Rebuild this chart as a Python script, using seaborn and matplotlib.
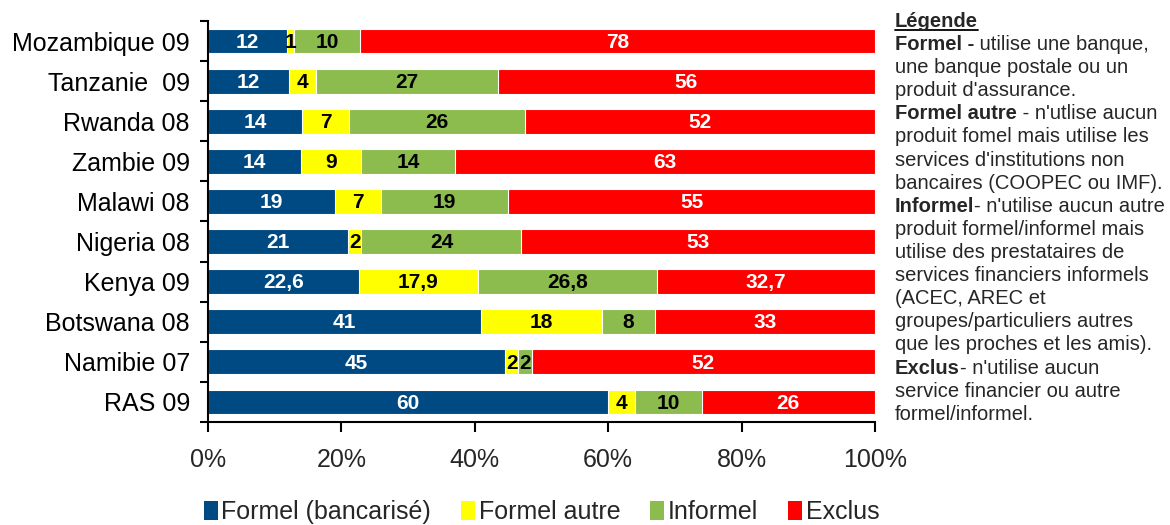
import numpy as np
import pandas as pd
import matplotlib
matplotlib.use("Agg")
import matplotlib.pyplot as plt
from matplotlib.patches import Patch
from matplotlib.lines import Line2D
import seaborn as sns

# Donnees
pays = ["Mozambique 09", "Tanzanie  09", "Rwanda 08", "Zambie 09", "Malawi 08",
        "Nigeria 08", "Kenya 09", "Botswana 08", "Namibie 07", "RAS 09"]
formel = [12, 12, 14, 14, 19, 21, 22.6, 41, 45, 60]
formel_autre = [1, 4, 7, 9, 7, 2, 17.9, 18, 2, 4]
informel = [10, 27, 26, 14, 19, 24, 26.8, 8, 2, 10]
exclus = [78, 56, 52, 63, 55, 53, 32.7, 33, 52, 26]

series = ["Formel (bancarisé)", "Formel autre", "Informel", "Exclus"]
couleurs = ["#004A83", "#FFFF00", "#8CBB4E", "#FF0000"]
couleurs_texte = ["white", "black", "black", "white"]
x_ticks = [0, 20, 40, 60, 80, 100]

sns.set_theme(style="white")
plt.rcParams["font.family"] = ["Liberation Sans", "DejaVu Sans"]

# 100% empile : on normalise chaque ligne
df = pd.DataFrame({"pays": pays, series[0]: formel, series[1]: formel_autre,
                   series[2]: informel, series[3]: exclus})
total = df[series].sum(axis=1)
pct = df[series].div(total, axis=0) * 100
cum = pct.cumsum(axis=1)

fig = plt.figure(figsize=(11.7, 5.25), dpi=100)
ax = fig.add_axes([208 / 1170, 103 / 525, 667 / 1170, 401 / 525])

# on dessine les cumuls du plus long au plus court
for s, c in zip(reversed(series), reversed(couleurs)):
    sns.barplot(x=cum[s].values, y=df["pays"], color=c, orient="h", width=0.62,
                saturation=1, edgecolor="white", linewidth=0.8, ax=ax)

# etiquettes des segments
debut = cum - pct
for i in range(len(df)):
    for s, ct in zip(series, couleurs_texte):
        v = df.loc[i, s]
        txt = f"{v:g}".replace(".", ",")
        ax.text(debut.loc[i, s] + pct.loc[i, s] / 2, i + 0.03, txt, ha="center", va="center",
                color=ct, fontsize=15, fontweight="bold")

ax.set_xlim(0, 100)
ax.set_ylim(9.5, -0.5)
ax.set_xticks(x_ticks)
ax.set_xticklabels([f"{t}%" for t in x_ticks])
ax.set_xlabel("")
ax.set_ylabel("")
ax.set_yticks(np.arange(-0.5, 10, 1), minor=True)
ax.tick_params(axis="y", which="major", length=0, pad=13, labelsize=18, colors="black")
ax.tick_params(axis="y", which="minor", left=True, length=6, width=1.5, color="black", direction="out")
ax.tick_params(axis="x", bottom=True, length=7, width=1.5, pad=12, labelsize=18,
               color="black", direction="out")
for sp in ["top", "right"]:
    ax.spines[sp].set_visible(False)
for sp in ["left", "bottom"]:
    ax.spines[sp].set_color("black")
    ax.spines[sp].set_linewidth(1.5)

poignees = [Patch(facecolor=c, edgecolor="none") for c in couleurs]
ax.legend(poignees, series, loc="center", bbox_to_anchor=(0.5, -0.225), ncol=4,
          frameon=False, fontsize=18, handlelength=0.55, handleheight=0.75,
          handletextpad=0.15, columnspacing=1.2)

# Legende texte a droite
lignes = [
    ("Légende", ""),
    ("Formel -", " utilise une banque,"),
    ("", "une banque postale ou un"),
    ("", "produit d'assurance."),
    ("Formel autre", " - n'utlise aucun"),
    ("", "produit fomel mais utilise les"),
    ("", "services d'institutions non"),
    ("", "bancaires (COOPEC ou IMF)."),
    ("Informel", "- n'utilise aucun autre"),
    ("", "produit formel/informel mais"),
    ("", "utilise des prestataires de"),
    ("", "services financiers informels"),
    ("", "(ACEC, AREC et"),
    ("", "groupes/particuliers autres"),
    ("", "que les proches et les amis)."),
    ("Exclus", "- n'utilise aucun"),
    ("", "service financier ou autre"),
    ("", "formel/informel."),
]
x0 = 895 / 1170
renderer = fig.canvas.get_renderer()
W, H = fig.bbox.width, fig.bbox.height
for i, (gras, reste) in enumerate(lignes):
    y = 1 - (27 + 23.1 * i) / 525
    x = x0
    if gras:
        t = fig.text(x, y, gras, fontsize=14.5, fontweight="bold", va="baseline", ha="left")
        bb = t.get_window_extent(renderer=renderer)
        x = bb.x1 / W
        if i == 0:
            yl = y - 3 / H
            fig.add_artist(Line2D([bb.x0 / W, bb.x1 / W], [yl, yl], color="black",
                                  linewidth=1.3, transform=fig.transFigure))
    if reste:
        fig.text(x, y, reste, fontsize=14.5, va="baseline", ha="left")

fig.savefig("out.png", dpi=100)
